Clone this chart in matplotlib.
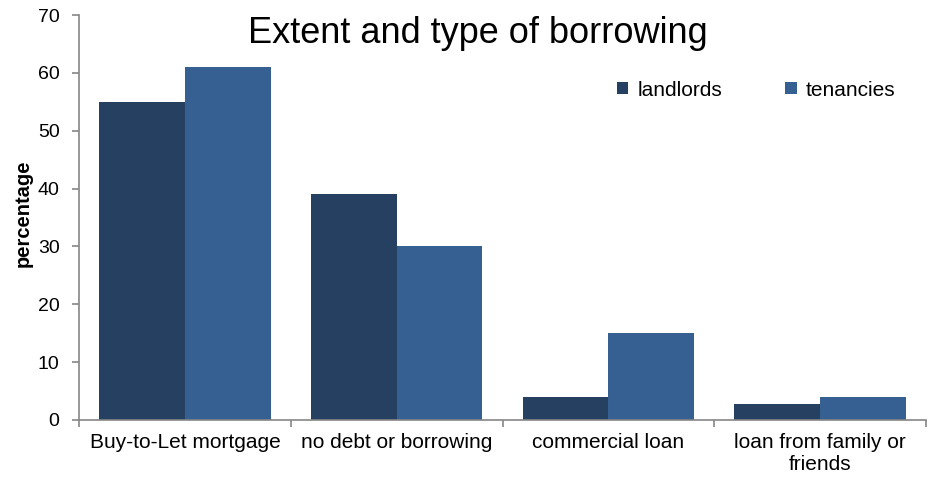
import matplotlib
matplotlib.use("Agg")
import matplotlib.pyplot as plt
import numpy as np

plt.rcParams['font.family'] = ['Liberation Sans', 'DejaVu Sans']

categories = ["Buy-to-Let mortgage", "no debt or borrowing", "commercial loan",
              "loan from family or\nfriends"]
landlords = [55, 39, 4, 2.7]
tenancies = [61, 30, 15, 4]
series_names = ["landlords", "tenancies"]
colors = ["#254061", "#376092"]

fig = plt.figure(figsize=(9.32, 4.79), dpi=100)
ax = fig.add_axes([79 / 932, 1 - 420 / 479, (926 - 79) / 932, (420 - 15) / 479])

x = np.arange(len(categories))
w = 0.405
ax.bar(x - w / 2, landlords, w, color=colors[0], label=series_names[0])
ax.bar(x + w / 2, tenancies, w, color=colors[1], label=series_names[1])

ax.set_xlim(-0.5, len(categories) - 0.5)
ax.set_ylim(0, 70)
ax.set_yticks(np.arange(0, 71, 10))
ax.tick_params(axis='y', labelsize=14, color='#868686', length=5, width=1.2, pad=9)

ax.set_xticks(x)
ax.set_xticklabels(categories, fontsize=15, linespacing=1.25)
ax.tick_params(axis='x', length=0, pad=9)
ax.set_xticks(np.arange(-0.5, len(categories), 1), minor=True)
ax.tick_params(axis='x', which='minor', length=5, color='#868686', width=1.2)

for s in ['top', 'right']:
    ax.spines[s].set_visible(False)
for s in ['left', 'bottom']:
    ax.spines[s].set_color('#868686')
    ax.spines[s].set_linewidth(1.2)

ax.set_ylabel("percentage", fontsize=14.5, fontweight='bold')
ax.yaxis.set_label_coords(-46 / 847, (420 - 213) / 405)

fig.text(478 / 932, 1 - 43 / 479, "Extent and type of borrowing", fontsize=26,
         ha='center', va='baseline')

fig.legend(loc='center left', bbox_to_anchor=(617 / 932, 1 - 90 / 479), ncol=2,
           frameon=False, fontsize=15, handlelength=0.55, handleheight=0.55,
           columnspacing=3.0, handletextpad=0.45, borderpad=0, borderaxespad=0)

fig.savefig("out.png", dpi=100)
